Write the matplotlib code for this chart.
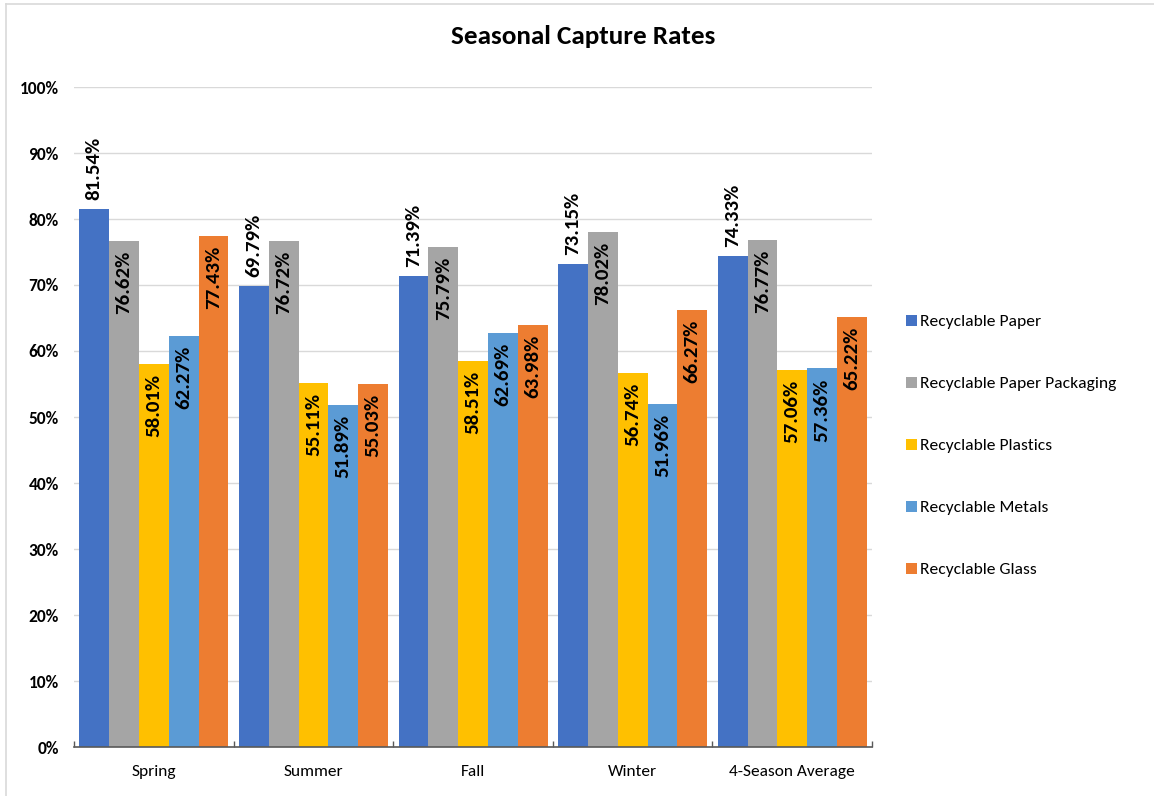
import matplotlib
matplotlib.use("Agg")
import matplotlib.pyplot as plt
from matplotlib import font_manager
from matplotlib.lines import Line2D
from matplotlib.patches import Patch
import numpy as np

available = {f.name for f in font_manager.fontManager.ttflist}
FONT = next(f for f in ["Carlito", "Lato", "Open Sans", "DejaVu Sans"] if f in available)
plt.rcParams['font.family'] = [FONT, 'DejaVu Sans']

categories = ["Spring", "Summer", "Fall", "Winter", "4-Season Average"]
series_names = ["Recyclable Paper", "Recyclable Paper Packaging", "Recyclable Plastics",
                "Recyclable Metals", "Recyclable Glass"]
paper = [81.54, 69.79, 71.39, 73.15, 74.33]
paper_packaging = [76.62, 76.72, 75.79, 78.02, 76.77]
plastics = [58.01, 55.11, 58.51, 56.74, 57.06]
metals = [62.27, 51.89, 62.69, 51.96, 57.36]
glass = [77.43, 55.03, 63.98, 66.27, 65.22]
series_values = [paper, paper_packaging, plastics, metals, glass]
colors = ["#4472C4", "#A5A5A5", "#FFC000", "#5B9BD5", "#ED7D31"]
yticks = [0, 10, 20, 30, 40, 50, 60, 70, 80, 90, 100]
ytick_labels = [f"{t}%" for t in yticks]

W, H = 1154, 796
fig = plt.figure(figsize=(W / 100, H / 100), dpi=100)
ax = fig.add_axes([74 / W, 1 - 747 / H, (872 - 74) / W, (747 - 87) / H])

x = np.arange(len(categories))
bw = 29.8 / 159.6
for i, (name, vals, c) in enumerate(zip(series_names, series_values, colors)):
    pos = x + (i - 2) * bw
    ax.bar(pos, vals, width=bw, color=c, label=name, zorder=2)
    for p, v in zip(pos, vals):
        if i == 0:
            ax.text(p, v + 1.4, f"{v:.2f}%", rotation=90, ha='center', va='bottom',
                    fontsize=15, fontweight='bold', color='black', zorder=3)
        else:
            ax.text(p, v - 1.5, f"{v:.2f}%", rotation=90, ha='center', va='top',
                    fontsize=15, fontweight='bold', color='black', zorder=3)

ax.set_xlim(-0.5, len(categories) - 0.5)
ax.set_ylim(0, 100)
ax.set_yticks(yticks)
ax.set_yticklabels(ytick_labels, fontsize=12.5, fontweight='bold')
ax.yaxis.grid(True, color="#d9d9d9", linewidth=1, zorder=0)
ax.set_axisbelow(True)
ax.tick_params(axis='y', length=0, pad=11)
ax.set_xticks(x)
ax.set_xticklabels(categories, fontsize=12.5)
ax.tick_params(axis='x', length=0, pad=13)
# boundary tick marks (pointing up, inside)
ax.set_xticks(np.arange(-0.5, len(categories)), minor=True)
ax.tick_params(axis='x', which='minor', length=4, width=1, color='#595959', direction='in')
for s in ['top', 'right', 'left']:
    ax.spines[s].set_visible(False)
ax.spines['bottom'].set_color('#595959')
ax.spines['bottom'].set_linewidth(1.2)

fig.text(583 / W, 1 - 37 / H, "Seasonal Capture Rates", ha='center', va='center',
         fontsize=19.5, fontweight='bold')

handles = [Patch(facecolor=c, label=n) for c, n in zip(colors, series_names)]
fig.legend(handles=handles, loc='center left', bbox_to_anchor=(892 / W, 1 - 446 / H),
           frameon=False, fontsize=12.6, labelspacing=2.7, handlelength=0.6,
           handleheight=0.6, handletextpad=0.22, borderpad=0.3)

# chart frame lines
fig.add_artist(Line2D([6 / W, 1], [1 - 4 / H, 1 - 4 / H], color='#d9d9d9', lw=1.2))
fig.add_artist(Line2D([6 / W, 6 / W], [0, 1 - 4 / H], color='#d9d9d9', lw=1.2))

fig.savefig("out.png", dpi=100)
